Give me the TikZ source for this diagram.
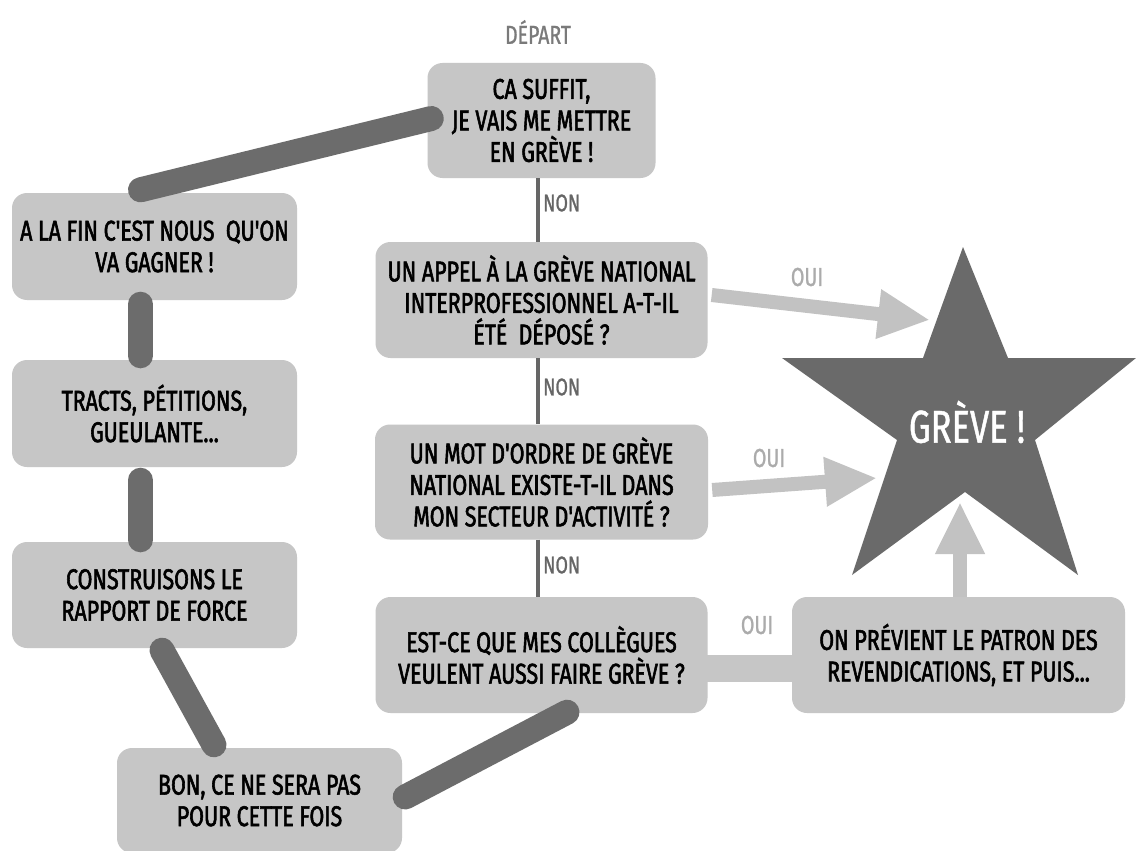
\documentclass[tikz,border=0pt]{standalone}
\usepackage{fontspec}
\setmainfont{Fira Sans}[FakeStretch=0.75]
\newfontfamily\handb{Fira Sans}[FakeStretch=0.75,FakeBold=2]
\newfontfamily\handl{Fira Sans}[FakeStretch=0.75,FakeBold=1]
\usetikzlibrary{arrows.meta}
\definecolor{boxgray}{HTML}{C6C6C6}
\definecolor{darkline}{HTML}{6C6C6C}
\definecolor{stargray}{HTML}{6A6A6A}
\definecolor{lightarrow}{HTML}{C2C2C2}
\definecolor{ouigray}{HTML}{ABABAB}
\definecolor{nongray}{HTML}{666666}
\definecolor{depgray}{HTML}{7A7A7A}
\begin{document}
\begin{tikzpicture}[x=1pt,y=-1pt,
  box/.style={fill=boxgray, rounded corners=15pt, text=black, align=center, inner sep=0pt,
    font=\handb\fontsize{28.5}{31.5}\selectfont},
  thick link/.style={draw=darkline, line width=25pt, line cap=round},
  thin link/.style={draw=nongray, line width=4pt},
  band/.style={draw=boxgray, line width=27pt},
  oui arrow/.style={draw=lightarrow, line width=14pt, -{Triangle[length=52pt,width=46pt]}},
  nonlabel/.style={text=nongray, anchor=west, inner sep=0pt, font=\handl\fontsize{24}{24}\selectfont},
  ouilabel/.style={text=ouigray, inner sep=0pt, font=\handl\fontsize{26}{26}\selectfont}]
\useasboundingbox (0,0) rectangle (1136,851);
\fill[white] (0,0) rectangle (1136,851);

% boxes
\node[box, minimum width=228pt, minimum height=115pt] (b1) at (541.5,120.5) {CA SUFFIT,\\JE VAIS ME METTRE\\EN GRÈVE !};
\node[box, minimum width=285pt, minimum height=107pt] (b2) at (154.5,246.5) {A LA FIN C'EST NOUS\ \ QU'ON\\VA GAGNER !};
\node[box, minimum width=332pt, minimum height=116pt] (b3) at (541.5,300) {UN APPEL À LA GRÈVE NATIONAL\\INTERPROFESSIONNEL A-T-IL\\ÉTÉ\ \ DÉPOSÉ ?};
\node[box, minimum width=333pt, minimum height=115pt] (b4) at (541.5,482) {UN MOT D'ORDRE DE GRÈVE\\NATIONAL EXISTE-T-IL DANS\\MON SECTEUR D'ACTIVITÉ ?};
\node[box, minimum width=332pt, minimum height=116pt] (b5) at (541.5,655) {EST-CE QUE MES COLLÈGUES\\VEULENT AUSSI FAIRE GRÈVE ?};
\node[box, minimum width=333pt, minimum height=116pt] (b6) at (958.5,655) {ON PRÉVIENT LE PATRON DES\\REVENDICATIONS, ET PUIS...};
\node[box, minimum width=285pt, minimum height=107pt] (b7) at (154.5,413.5) {TRACTS, PÉTITIONS,\\GUEULANTE...};
\node[box, minimum width=285pt, minimum height=106pt] (b8) at (154.5,595) {CONSTRUISONS LE\\RAPPORT DE FORCE};
\node[box, minimum width=285pt, minimum height=105pt] (b9) at (259.5,800.5) {BON, CE NE SERA PAS\\POUR CETTE FOIS};

% start label
\node[text=depgray, inner sep=0pt, font=\handl\fontsize{26}{26}\selectfont] (dep) at (538,32) {DÉPART};

% star
\fill[stargray] (963,247) -- (1008,358) -- (1136,358) -- (1035,440) -- (1078,575)
  -- (965,492) -- (852,575) -- (897,440) -- (782,358) -- (923,358) -- cycle;
\node[text=white, inner sep=0pt, font=\handl\fontsize{46}{46}\selectfont] (greve) at (967,422) {GRÈVE !};
\coordinate (t1) at (930,320);
\coordinate (t2) at (877,478);
\coordinate (t3) at (960,502);

% NON chain
\draw[thin link] ([xshift=-3.5pt]b1.south) -- ([xshift=-3.5pt]b3.north);
\draw[thin link] ([xshift=-3.5pt]b3.south) -- ([xshift=-3.5pt]b4.north);
\draw[thin link] ([xshift=-3.5pt]b4.south) -- ([xshift=-3.5pt]b5.north);
\node[nonlabel] (non1) at (543,203) {NON};
\node[nonlabel] (non2) at (543,387) {NON};
\node[nonlabel] (non3) at (543,565) {NON};

% OUI links
\draw[oui arrow] ([xshift=4pt,yshift=5pt]b3.east) -- (t1);
\draw[oui arrow] ([xshift=4pt,yshift=-8pt]b4.east) -- (t2);
\draw[band] ([xshift=-2pt,yshift=-13pt]b5.east) -- ([xshift=2pt,yshift=-13pt]b6.west);
\draw[oui arrow] ([xshift=1.5pt]b6.north) -- (t3);
\node[ouilabel] (oui1) at (807,277) {OUI};
\node[ouilabel] (oui2) at (769,458) {OUI};
\node[ouilabel] (oui3) at (757,625) {OUI};

% loop back
\draw[thick link] ([xshift=4pt,yshift=2pt]b1.west) -- ([xshift=-14pt,yshift=3pt]b2.north);
\draw[thick link] ([xshift=-14pt,yshift=-4pt]b2.south) -- ([xshift=-14pt,yshift=4pt]b7.north);
\draw[thick link] ([xshift=-14pt,yshift=-13pt]b7.south) -- ([xshift=-14pt,yshift=2pt]b8.north);
\draw[thick link] ([xshift=7.5pt,yshift=-2pt]b8.south) -- ([xshift=-45.5pt,yshift=3pt]b9.north);
\draw[thick link] ([xshift=3pt,yshift=3.5pt]b9.east) -- ([xshift=25.5pt,yshift=1pt]b5.south);
\end{tikzpicture}
\end{document}
